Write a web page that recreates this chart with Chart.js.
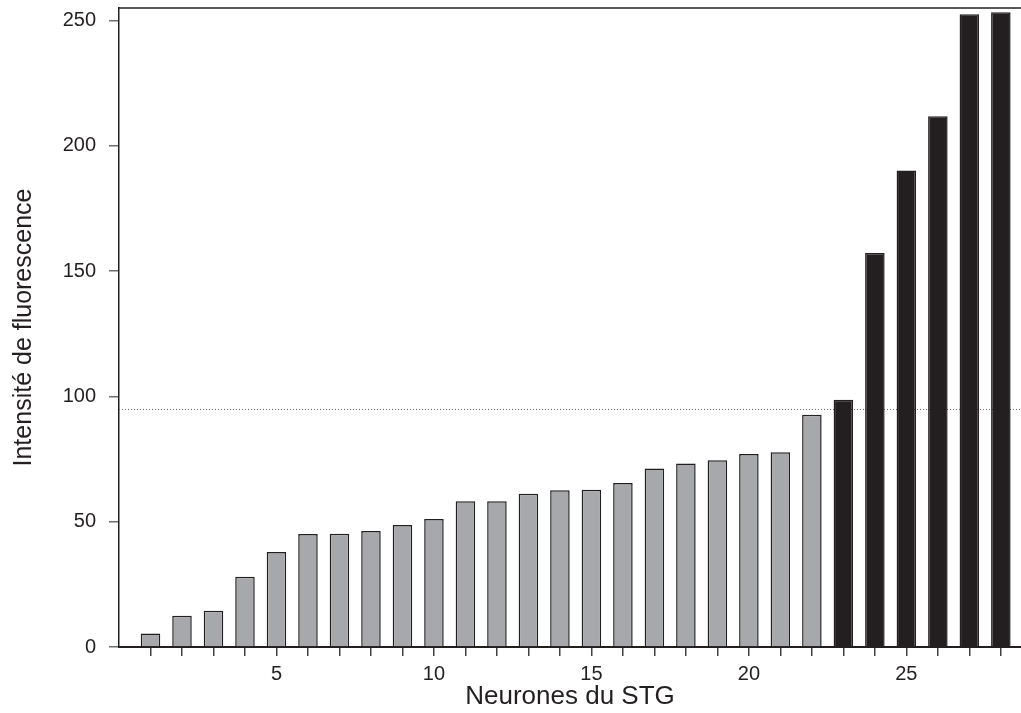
<!DOCTYPE html>
<html>
<head>
<meta charset="utf-8">
<script src="https://cdn.jsdelivr.net/npm/chart.js@4/dist/chart.umd.min.js"></script>
<style>
  html, body { margin: 0; padding: 0; background: #fff; }
  #wrap { width: 1021px; height: 713px; position: relative; }
</style>
</head>
<body>
<div id="wrap"><canvas id="stgChart"></canvas></div>
<script>
 // Data
 const neurons = [1, 2, 3, 4, 5, 6, 7, 8, 9, 10, 11, 12, 13, 14, 15, 16, 17, 18, 19, 20, 21, 22, 23, 24, 25, 26, 27, 28];
 const intensity = [5.4, 12.5, 14.5, 28.0, 37.9, 45.1, 45.2, 46.3, 48.7, 51.1, 58.2, 58.2, 61.2, 62.6, 62.8,
     65.4, 71.2, 73.2, 74.5, 77.0, 77.7, 92.7, 98.7, 157.2, 190.2, 211.8, 252.5, 253.3];
 const threshold = 95;
 const yTicks = [0, 50, 100, 150, 200, 250];
 const xLabelTicks = [5, 10, 15, 20, 25];

 const fontFamily = "'Liberation Sans', Arial, Helvetica, sans-serif";
 const ink = '#231f20';
 const grey = '#a7a8ab';

 // Dotted threshold line + top frame line
 const framePlugin = {
     id: 'frame',
     beforeDatasetsDraw(chart) {
         const { ctx, chartArea, scales } = chart;
         const y = Math.round(scales.y.getPixelForValue(threshold)) + 0.5;
         ctx.save();
         ctx.strokeStyle = '#6d6e71';
         ctx.lineWidth = 1;
         ctx.setLineDash([1, 2]);
         ctx.beginPath();
         ctx.moveTo(chartArea.left, y);
         ctx.lineTo(chartArea.right, y);
         ctx.stroke();
         ctx.restore();
     },
     afterDraw(chart) {
         const { ctx, chartArea } = chart;
         ctx.save();
         ctx.strokeStyle = ink;
         ctx.lineWidth = 1.5;
         ctx.beginPath();
         ctx.moveTo(chartArea.left, chartArea.top);
         ctx.lineTo(chartArea.right, chartArea.top);
         ctx.stroke();
         ctx.restore();
     }
 };

 const ctxStg = document.getElementById('stgChart').getContext('2d');

 const stgChart = new Chart(ctxStg, {
     type: 'bar',
     data: {
         datasets: [{
             label: 'Intensité de fluorescence',
             data: neurons.map((n, i) => ({ x: n, y: intensity[i] })),
             backgroundColor: intensity.map(v => v > threshold ? ink : grey),
             borderColor: ink,
             borderWidth: 1.5,
             categoryPercentage: 1,
             barPercentage: 0.62
         }]
     },
     options: {
         responsive: true,
         maintainAspectRatio: false,
         animation: false,
         layout: { padding: { top: 8, right: 0, left: 0, bottom: 0 } },
         plugins: {
             legend: { display: false },
             tooltip: { enabled: false }
         },
         scales: {
             x: {
                 type: 'linear',
                 offset: false,
                 min: 0,
                 max: 28.64,
                 grid: { offset: false, drawOnChartArea: false, tickLength: 9, color: '#414042', lineWidth: 1.5 },
                 border: { color: ink, width: 2 },
                 afterBuildTicks: s => { s.ticks = neurons.map(n => ({ value: n })); },
                 afterFit: s => {
                     s.height = 66;
                     s.paddingLeft = 0;
                     s.paddingRight = 0;
                 },
                 ticks: {
                     autoSkip: false,
                     maxRotation: 0,
                     padding: 6,
                     color: ink,
                     font: { family: fontFamily, size: 20 },
                     callback: v => xLabelTicks.includes(v) ? String(v) : ''
                 },
                 title: {
                     display: true,
                     text: 'Neurones du STG',
                     color: ink,
                     font: { family: fontFamily, size: 26 },
                     padding: { top: 0, bottom: 1 }
                 }
             },
             y: {
                 min: 0,
                 max: 255,
                 grid: { drawOnChartArea: false, tickLength: 10, color: '#6d6e71', lineWidth: 1.5 },
                 border: { color: ink, width: 1.5 },
                 afterBuildTicks: s => { s.ticks = yTicks.map(v => ({ value: v })); },
                 afterFit: s => {
                     s.width = 119;
                     s.paddingTop = 0;
                     s.paddingBottom = 0;
                 },
                 ticks: {
                     padding: 13,
                     color: ink,
                     font: { family: fontFamily, size: 20 }
                 },
                 title: {
                     display: true,
                     text: 'Intensité de fluorescence',
                     color: ink,
                     font: { family: fontFamily, size: 25 },
                     padding: { top: 9, bottom: 0 }
                 }
             }
         }
     },
     plugins: [framePlugin]
 });
</script>
</body>
</html>
